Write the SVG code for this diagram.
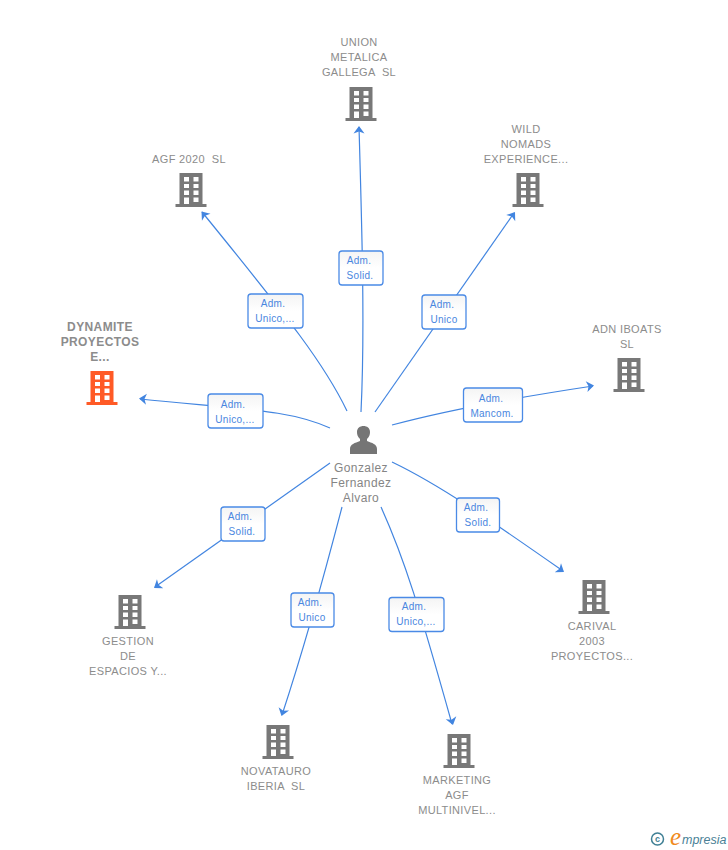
<svg xmlns="http://www.w3.org/2000/svg" width="728" height="850" viewBox="0 0 728 850">
<style>
text{font-family:"Liberation Sans",Arial,sans-serif;white-space:pre}
.n{font-size:11px;fill:#8c8c8c;text-anchor:middle;letter-spacing:.35px}
.d{font-size:12px;font-weight:bold;fill:#8c8c8c;text-anchor:middle;letter-spacing:.4px}
.p{font-size:12px;fill:#858585;text-anchor:middle;letter-spacing:.4px}
.l{font-size:10px;fill:#4a86e0;text-anchor:middle;letter-spacing:.3px}
.c{fill:none;stroke:#4285e0;stroke-width:1.2}
.b{fill:url(#g);stroke:#4a8ae6;stroke-width:1.3}
.a{fill:#4285e0}
</style>
<defs>
<path id="ah" d="M0 0L-7.500 -5.500L-5.500 0L-7.500 5.500Z"/>
<path id="bld" fill-rule="evenodd" d="M-11.500 -17H11.500V14H15.500V17H-15.500V14H-11.500ZM-7 -13V-8.500H-2V-13ZM2.500 -13V-8.500H7.500V-13ZM-7 -6V-2H-2V-6ZM2.500 -6V-2H7.500V-6ZM-7 0.500V5H-2V0.500ZM2.500 0.500V5H7.500V0.500ZM-7 7.500V14H-2V7.500ZM2.500 7.500V12H7.500V7.500Z"/>
<linearGradient id="g" x1="0" y1="0" x2="0" y2="1"><stop offset="0" stop-color="#f4f4f4"/><stop offset=".5" stop-color="#fff"/></linearGradient>
</defs>
<g id="connectors">
<path class="c" d="M361 412C365 330 362 230 359 127"/><use href="#ah" class="a" transform="translate(359 126) rotate(-90)"/>
<path class="c" d="M347 411C325 365 290 320 202 212"/><use href="#ah" class="a" transform="translate(201.500 211.500) rotate(-129)"/>
<path class="c" d="M375 412L514 213"/><use href="#ah" class="a" transform="translate(515 212) rotate(-55)"/>
<path class="c" d="M330 428C290 410 250 410 140 399"/><use href="#ah" class="a" transform="translate(139 398.500) rotate(-175)"/>
<path class="c" d="M392 425C440 412 500 400 593 386"/><use href="#ah" class="a" transform="translate(594 385.500) rotate(-9)"/>
<path class="c" d="M330 463L155 587"/><use href="#ah" class="a" transform="translate(154 588) rotate(144.700)"/>
<path class="c" d="M342 507Q310 630 282 715"/><use href="#ah" class="a" transform="translate(281.500 716) rotate(108)"/>
<path class="c" d="M381 507C405 560 420 610 452 724"/><use href="#ah" class="a" transform="translate(453 725) rotate(74.500)"/>
<path class="c" d="M392 462C440 485 490 520 563 571"/><use href="#ah" class="a" transform="translate(564 572) rotate(35)"/>
</g>
<g id="person">
<path fill="#757575" d="M350 454V449C350 444 355 443 360 441V439C357.500 437 357 434 357 432C357 428 360 426 363.500 426C367 426 370 428 370 432C370 434 369.500 437 367 439V441C372 443 377 444 377 449V454Z"/>
<text class="p"><tspan x="361" y="472">Gonzalez</tspan><tspan x="361" y="487">Fernandez</tspan><tspan x="361" y="502">Alvaro</tspan></text>
</g>
<g id="n-union"><text class="n"><tspan x="359" y="46">UNION</tspan><tspan x="359" y="61">METALICA</tspan><tspan x="359" y="76">GALLEGA  SL</tspan></text><use href="#bld" fill="#787878" transform="translate(361 104)"/></g>
<g id="n-wild"><text class="n"><tspan x="526" y="133">WILD</tspan><tspan x="526" y="148">NOMADS</tspan><tspan x="526" y="163">EXPERIENCE...</tspan></text><use href="#bld" fill="#787878" transform="translate(528 190)"/></g>
<g id="n-agf"><text class="n" x="189" y="163">AGF 2020  SL</text><use href="#bld" fill="#787878" transform="translate(191 190)"/></g>
<g id="n-adn"><text class="n"><tspan x="627" y="333">ADN IBOATS</tspan><tspan x="627" y="348">SL</tspan></text><use href="#bld" fill="#787878" transform="translate(629 375)"/></g>
<g id="n-dynamite"><text class="d"><tspan x="100" y="331">DYNAMITE</tspan><tspan x="100" y="346">PROYECTOS</tspan><tspan x="100" y="361">E...</tspan></text><use href="#bld" fill="#ff5a26" transform="translate(102 388)"/></g>
<g id="n-gestion"><use href="#bld" fill="#787878" transform="translate(130 612)"/><text class="n"><tspan x="128" y="645">GESTION</tspan><tspan x="128" y="660">DE</tspan><tspan x="128" y="675">ESPACIOS Y...</tspan></text></g>
<g id="n-novatauro"><use href="#bld" fill="#787878" transform="translate(278 742)"/><text class="n"><tspan x="276" y="775">NOVATAURO</tspan><tspan x="276" y="790">IBERIA  SL</tspan></text></g>
<g id="n-marketing"><use href="#bld" fill="#787878" transform="translate(459 751)"/><text class="n"><tspan x="457" y="784">MARKETING</tspan><tspan x="457" y="799">AGF</tspan><tspan x="457" y="814">MULTINIVEL...</tspan></text></g>
<g id="n-carival"><use href="#bld" fill="#787878" transform="translate(594 597)"/><text class="n"><tspan x="592" y="630">CARIVAL</tspan><tspan x="592" y="645">2003</tspan><tspan x="592" y="660">PROYECTOS...</tspan></text></g>
<g id="labels">
<g><rect class="b" x="339" y="251" width="44" height="34" rx="3"/><text class="l"><tspan x="359" y="264">Adm.</tspan><tspan x="360" y="279">Solid.</tspan></text></g>
<g><rect class="b" x="248" y="294" width="55" height="34" rx="3"/><text class="l"><tspan x="273" y="307">Adm.</tspan><tspan x="275" y="322">Unico,...</tspan></text></g>
<g><rect class="b" x="422" y="295" width="44" height="34" rx="3"/><text class="l"><tspan x="442" y="308">Adm.</tspan><tspan x="444" y="323">Unico</tspan></text></g>
<g><rect class="b" x="208" y="394" width="55" height="34" rx="3"/><text class="l"><tspan x="233" y="408">Adm.</tspan><tspan x="235" y="423">Unico,...</tspan></text></g>
<g><rect class="b" x="463.500" y="388" width="59" height="34" rx="3"/><text class="l"><tspan x="491" y="402">Adm.</tspan><tspan x="492" y="417">Mancom.</tspan></text></g>
<g><rect class="b" x="221" y="507" width="44" height="34" rx="3"/><text class="l"><tspan x="240" y="520">Adm.</tspan><tspan x="242" y="535">Solid.</tspan></text></g>
<g><rect class="b" x="291" y="593" width="43" height="34" rx="3"/><text class="l"><tspan x="310" y="606">Adm.</tspan><tspan x="312" y="621">Unico</tspan></text></g>
<g><rect class="b" x="389" y="597.500" width="55" height="34" rx="3"/><text class="l"><tspan x="414" y="610">Adm.</tspan><tspan x="416" y="625">Unico,...</tspan></text></g>
<g><rect class="b" x="456.500" y="498" width="43" height="34" rx="3"/><text class="l"><tspan x="476" y="511">Adm.</tspan><tspan x="478" y="526">Solid.</tspan></text></g>
</g>
<g id="logo">
<circle cx="657.500" cy="839" r="6" fill="none" stroke="#3f7f94" stroke-width="1.500"/>
<text x="657.500" y="842" font-size="9" font-weight="bold" fill="#3f7f94" text-anchor="middle">c</text>
<text x="670" y="845" font-size="25" fill="#f08a1d" font-style="italic" style="font-family:'Liberation Serif',serif">e</text>
<text x="682" y="844" font-size="12.500" fill="#4a7f96" font-style="italic">mpresia</text>
</g>
</svg>
